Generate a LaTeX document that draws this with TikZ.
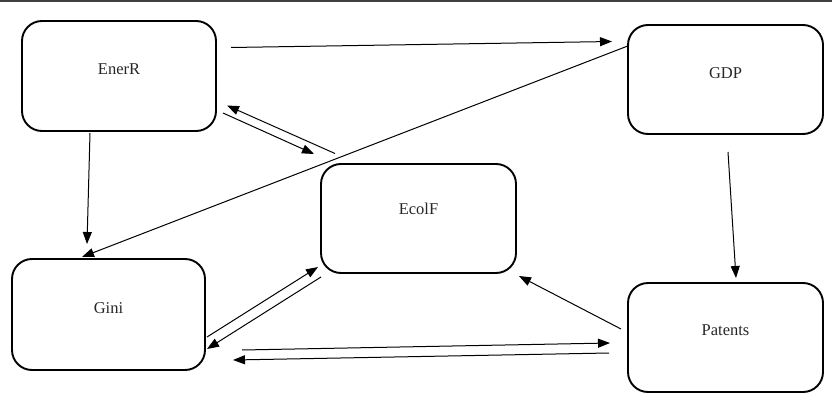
\documentclass[tikz,border=0pt]{standalone}
\usepackage{fontspec}
\setmainfont{Liberation Serif}
\usetikzlibrary{arrows.meta}
\tikzset{
  varbox/.style={draw=black, line width=1.9pt, rounded corners=20pt, minimum width=#1, minimum height=109pt, inner sep=0pt},
  varlabel/.style={font=\fontsize{16.5}{19}\selectfont, text=black!85},
  link/.style={draw=black, line width=1pt, -{Triangle[length=12pt,width=9pt]}},
}
\begin{document}
\begin{tikzpicture}[x=1pt,y=-1pt]
\useasboundingbox (0,0) rectangle (832,412);
\draw[line width=1.5pt, black!75] (0,0.8) -- (832,0.8);
% boxes
\node[varbox=194pt, minimum height=110pt] (enerr) at (119,76) {};
\node[varbox=195pt] (gdp) at (725.5,79.5) {};
\node[varbox=195pt] (ecolf) at (418.5,218.5) {};
\node[varbox=193pt, minimum height=111pt] (gini) at (108.5,314.5) {};
\node[varbox=195pt] (patents) at (725.5,337.5) {};
% labels
\node[varlabel] (lenerr) at (119,69) {EnerR};
\node[varlabel] (lgdp) at (725.5,73) {GDP};
\node[varlabel] (lecolf) at (418.5,209) {EcolF};
\node[varlabel] (lgini) at (108.5,308) {Gini};
\node[varlabel] (lpatents) at (725.5,330) {Patents};
% connector end points
\coordinate (a1) at (231,47.5);  \coordinate (a2) at (612,41.5);
\coordinate (b1) at (629,45.5);  \coordinate (b2) at (82,257);
\coordinate (c1) at (90,133);    \coordinate (c2) at (87,244);
\coordinate (d1) at (223,113);   \coordinate (d2) at (314,154);
\coordinate (e1) at (335,153.5); \coordinate (e2) at (227,105.5);
\coordinate (f1) at (207,337);   \coordinate (f2) at (318,267);
\coordinate (g1) at (321,277);   \coordinate (g2) at (207,349);
\coordinate (h1) at (242,350);   \coordinate (h2) at (610,343);
\coordinate (i1) at (609,353);   \coordinate (i2) at (233,360);
\coordinate (j1) at (621,329);   \coordinate (j2) at (519,276);
\coordinate (k1) at (728,152);   \coordinate (k2) at (736,278);
% connectors
\draw[link] (a1) -- (a2);
\draw[link] (b1) -- (b2);
\draw[link] (c1) -- (c2);
\draw[link] (d1) -- (d2);
\draw[link] (e1) -- (e2);
\draw[link] (f1) -- (f2);
\draw[link] (g1) -- (g2);
\draw[link] (h1) -- (h2);
\draw[link] (i1) -- (i2);
\draw[link] (j1) -- (j2);
\draw[link] (k1) -- (k2);
\end{tikzpicture}
\end{document}
